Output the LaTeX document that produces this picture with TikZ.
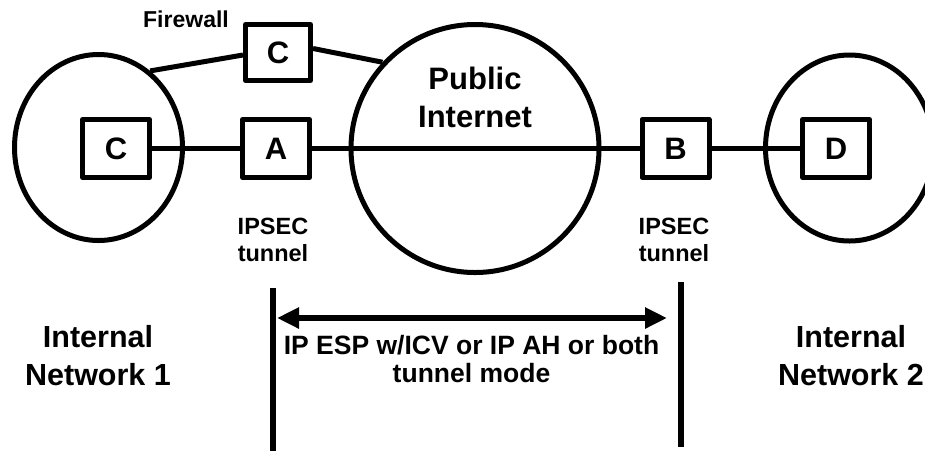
\documentclass[tikz,border=0pt]{standalone}
\usepackage{fontspec}
\setmainfont{Liberation Sans}
\usetikzlibrary{arrows.meta,shapes.geometric}

\newcommand{\fsz}[2]{\fontsize{#1}{#2}\selectfont\bfseries}

\tikzset{
  wire/.style={line width=5pt},
  unit/.style={draw, line width=5pt, line join=round, rectangle,
    minimum width=67pt, minimum height=58pt, inner sep=0pt,
    font=\fsz{31}{34}},
  net/.style={draw, line width=5pt, ellipse, inner sep=0pt,
    minimum width=168pt, minimum height=186pt},
  cloud/.style={draw, line width=5pt, circle, inner sep=0pt,
    minimum size=248pt},
  label/.style={align=center, inner sep=0pt},
  bound/.style={line width=6pt},
  span/.style={line width=5.5pt, {Triangle[length=22pt,width=20pt]}-{Triangle[length=22pt,width=20pt]}}
}

\begin{document}
\begin{tikzpicture}[x=1pt,y=-1pt]
  \useasboundingbox (0,0) rectangle (925,451);
  \clip (0,0) rectangle (925,451);

  % networks
  \node[net]   (net1) at (98.5,147.5) {};
  \node[cloud] (inet) at (475,148.5) {};
  \node[net]   (net2) at (849.5,148) {};

  % hosts and gateways
  \node[unit] (c1) at (116,148.5) {C};
  \node[unit, minimum width=65pt, minimum height=56pt] (fw) at (278,52.5) {C};
  \node[unit] (a)  at (276,148.5) {A};
  \node[unit] (b)  at (675.5,148.5) {B};
  \node[unit] (d)  at (836,148.5) {D};

  % links
  \draw[wire] (c1.east) -- (a.west);
  \draw[wire] (a.east) -- (b.west);
  \draw[wire] (b.east) -- (d.west);
  \draw[wire] (net1.56) -- ([yshift=-2.5pt]fw.west);
  \draw[wire] ([yshift=4pt]fw.east) -- (inet.137);

  % labels
  \node[label, font=\fsz{23}{26}] (fwl) at (186,19.5) {Firewall};
  \node[label, font=\fsz{31}{38}] (inl) at (475,97) {Public\\Internet};
  \node[label, font=\fsz{23.5}{27}] (ipa) at (273,240) {IPSEC\\tunnel};
  \node[label, font=\fsz{23.5}{27}] (ipb) at (674,240) {IPSEC\\tunnel};
  \node[label, font=\fsz{30.5}{38}] (n1l) at (98,356) {Internal\\Network 1};
  \node[label, font=\fsz{30.5}{38}] (n2l) at (851,356) {Internal\\Network 2};

  % tunnel extent
  \coordinate (tl) at (273,288);
  \coordinate (bl) at (273,451);
  \coordinate (tr) at (681,282);
  \coordinate (br) at (681,447);
  \coordinate (al) at (277,318);
  \coordinate (ar) at (667,318);
  \draw[bound] (tl) -- (bl);
  \draw[bound] (tr) -- (br);
  \draw[span] (al) -- (ar);
  \node[label, font=\fsz{26.5}{28}] (mode) at (471.5,359) {IP ESP w/ICV or IP AH or both\\tunnel mode};
\end{tikzpicture}
\end{document}
